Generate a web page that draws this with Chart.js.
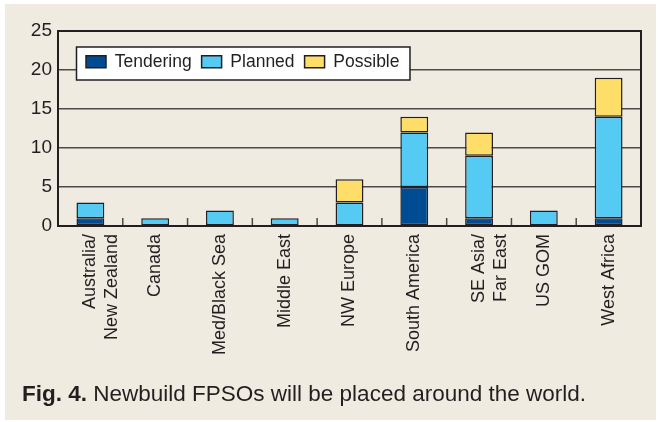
<!DOCTYPE html>
<html><head><meta charset="utf-8">
<script src="https://cdn.jsdelivr.net/npm/chart.js@4.4.1/dist/chart.umd.min.js"></script>
<style>
html,body{margin:0;padding:0;background:#fff;width:658px;height:422px;overflow:hidden;}
#panel{position:absolute;left:5px;top:4px;width:651px;height:416px;background:#efebe1;}
#wrap{position:absolute;left:0;top:0;width:658px;height:422px;}
#cap{position:absolute;left:22px;top:381px;font:22.5px "Liberation Sans",Arial,sans-serif;color:#231f20;white-space:nowrap;}
</style></head><body>
<div id="panel"></div>
<div id="wrap"><canvas id="c" width="658" height="422"></canvas></div>
<div id="cap"><b>Fig. 4.</b> Newbuild FPSOs will be placed around the world.</div>
<script>
const categories = [["Australia/","New Zealand"],"Canada","Med/Black Sea","Middle East","NW Europe","South America",["SE Asia/","Far East"],"US GOM","West Africa"];
const tendering = [1,0,0,0,0,5,1,0,1];
const planned   = [2,1,2,1,3,7,8,2,13];
const possible  = [0,0,0,0,3,2,3,0,5];
const seriesNames = ["Tendering","Planned","Possible"];
const seriesColors = ["#004b91","#55caf3","#fede68"];
const yMin = 0, yMax = 25, yStep = 5;

const INK = "#231f20";
const FONT = '"Liberation Sans", Arial, sans-serif';

const frameAndTicks = {
  id: 'frameAndTicks',
  afterDatasetsDraw(chart) {
    const ctx = chart.ctx, ca = chart.chartArea, xs = chart.scales.x;
    ctx.save();
    ctx.strokeStyle = "#4a4a4a";
    ctx.lineWidth = 1.5;
    for (let i = 1; i < categories.length; i++) {
      const x = (xs.getPixelForValue(i - 1) + xs.getPixelForValue(i)) / 2;
      ctx.beginPath();
      ctx.moveTo(x, ca.bottom);
      ctx.lineTo(x, ca.bottom - 8);
      ctx.stroke();
    }
    ctx.strokeStyle = INK;
    ctx.lineWidth = 2;
    ctx.strokeRect(ca.left, ca.top, ca.right - ca.left, ca.bottom - ca.top);
    ctx.restore();
  }
};

const legendPlace = {
  id: 'legendPlace',
  afterLayout(chart) {
    const lg = chart.legend, ca = chart.chartArea;
    if (!lg) return;
    const pad = 10;
    const w = lg.lineWidths[0] + pad + 10;
    lg.left = ca.left + 18;
    lg.top = 43;
    lg.right = lg.left + w;
    lg.bottom = lg.top + 40;
    lg.width = w; lg.height = 40;
    if (!lg._framed) {
      lg._framed = true;
      const orig = lg.draw;
      lg.draw = function (area) {
        const ctx = this.ctx;
        ctx.save();
        ctx.fillStyle = "#ffffff";
        ctx.strokeStyle = INK;
        ctx.lineWidth = 1.5;
        const fw = this.lineWidths[0] + 10;
        ctx.fillRect(this.left + 0.5, this.top + 4, fw, 33);
        ctx.strokeRect(this.left + 0.5, this.top + 4, fw, 33);
        ctx.restore();
        orig.call(this, area);
      };
    }
  }
};

new Chart(document.getElementById('c'), {
  type: 'bar',
  data: {
    labels: categories,
    datasets: [
      { label: seriesNames[0], data: tendering, backgroundColor: seriesColors[0] },
      { label: seriesNames[1], data: planned, backgroundColor: seriesColors[1] },
      { label: seriesNames[2], data: possible, backgroundColor: seriesColors[2] }
    ].map(d => Object.assign(d, { borderColor: INK, borderWidth: 1.5, borderSkipped: false, barPercentage: 0.43, categoryPercentage: 1 }))
  },
  options: {
    responsive: false,
    animation: false,
    devicePixelRatio: 1,
    layout: { padding: { top: -6.5, right: 17, left: 0, bottom: 0 } },
    plugins: {
      tooltip: { enabled: false },
      legend: {
        position: 'top',
        align: 'start',
        labels: {
          color: INK,
          font: { family: FONT, size: 17.5 },
          boxWidth: 20,
          boxHeight: 12,
          padding: 10
        }
      }
    },
    scales: {
      x: {
        stacked: true,
        grid: { display: false },
        border: { display: false },
        ticks: {
          autoSkip: false,
          minRotation: 90,
          maxRotation: 90,
          padding: 0,
          color: INK,
          font: { family: FONT, size: 18, lineHeight: 1.22 }
        },
        afterFit(s) { s.height = 196; }
      },
      y: {
        stacked: true,
        min: yMin,
        max: yMax,
        grid: {
          color: (c) => (c.tick && (c.tick.value === yMin || c.tick.value === yMax)) ? 'rgba(0,0,0,0)' : '#4a4a4a',
          lineWidth: 1.5,
          drawTicks: false
        },
        border: { display: false },
        ticks: {
          stepSize: yStep,
          padding: 6,
          color: INK,
          font: { family: FONT, size: 19 }
        },
        afterFit(s) { s.width = 58; }
      }
    }
  },
  plugins: [legendPlace, frameAndTicks]
});
</script>
</body></html>
